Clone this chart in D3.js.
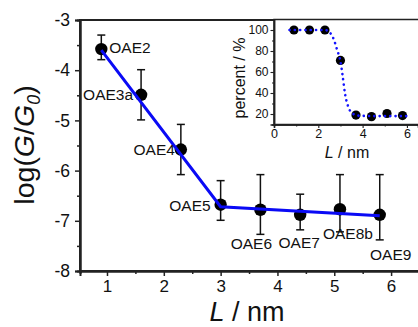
<!DOCTYPE html>
<html>
<head>
<meta charset="utf-8">
<script src="https://cdn.jsdelivr.net/npm/d3@7"></script>
<style>
  body { margin: 0; background: #fff; }
  svg text { font-family: "Liberation Sans", Arial, sans-serif; fill: #111; }
</style>
</head>
<body>
<script>
// main panel: log conductance vs length
const names = ["OAE2", "OAE3a", "OAE4", "OAE5", "OAE6", "OAE7", "OAE8b", "OAE9"];
const lengths = [0.9, 1.6, 2.3, 3.0, 3.7, 4.4, 5.1, 5.8];
const logG = [-3.58, -4.49, -5.58, -6.68, -6.78, -6.88, -6.77, -6.88];
const errHigh = [-3.3, -3.99, -5.08, -6.2, -6.08, -6.47, -6.08, -6.08];
const errLow = [-3.79, -4.99, -6.08, -6.99, -7.27, -7.18, -7.22, -7.38];
const fitX = [0.9, 3.0, 5.8];
const fitY = [-3.6, -6.72, -6.9];
const xTicks = [1, 2, 3, 4, 5, 6];
const yTicks = [-3, -4, -5, -6, -7, -8];

// inset: percent vs length
const insetPct = [100, 100, 100, 71, 19, 17.5, 20.5, 18.5];
const insetFitX = [0.7, 1.5, 2.3, 2.5, 2.7, 2.85, 3.0, 3.1, 3.2, 3.35, 3.55, 3.8, 4.5, 5.3, 6.0];
const insetFitY = [100, 100, 100, 98, 91, 81, 70, 56, 40, 27, 20.5, 18.5, 18, 18, 18];
const insetXTicks = [0, 2, 4, 6];
const insetYTicks = [20, 40, 60, 80, 100];

const width = 418, height = 327;
const svg = d3.select("body").append("svg")
    .attr("width", width).attr("height", height);

const x = d3.scaleLinear().domain([0.525, 6.5]).range([80, 419.5]);
const y = d3.scaleLinear().domain([-8, -3]).range([271, 20]);
const axisColor = "#222";

// frame
svg.append("rect")
    .attr("x", x.range()[0]).attr("y", y.range()[1])
    .attr("width", x.range()[1] - x.range()[0])
    .attr("height", y.range()[0] - y.range()[1])
    .attr("fill", "none").attr("stroke", axisColor).attr("stroke-width", 2);

function styleAxis(g, fontSize, sw) {
    g.select(".domain").attr("stroke", axisColor).attr("stroke-width", sw);
    g.selectAll(".tick line").attr("stroke", axisColor).attr("stroke-width", sw * 0.75);
    g.selectAll(".tick text").attr("font-size", fontSize + "px")
        .style("font-family", "'Liberation Sans', Arial, sans-serif").attr("fill", "#111");
}

// minor ticks first
svg.append("g").attr("transform", "translate(0," + y.range()[0] + ")")
    .call(d3.axisBottom(x).tickValues([1.5, 2.5, 3.5, 4.5, 5.5]).tickSize(3).tickFormat(""))
    .call(g => styleAxis(g, 17, 2));
svg.append("g").attr("transform", "translate(" + x.range()[0] + ",0)")
    .call(d3.axisLeft(y).tickValues([-3.5, -4.5, -5.5, -6.5, -7.5]).tickSize(3).tickFormat(""))
    .call(g => styleAxis(g, 17, 2));

svg.append("g").attr("transform", "translate(0," + y.range()[0] + ")")
    .call(d3.axisBottom(x).tickValues(xTicks).tickSize(5).tickPadding(4).tickFormat(d3.format("d")))
    .call(g => styleAxis(g, 17, 2));
svg.append("g").attr("transform", "translate(" + x.range()[0] + ",0)")
    .call(d3.axisLeft(y).tickValues(yTicks).tickSize(5).tickPadding(5).tickFormat(d => String(d).replace("\u2212", "-")))
    .call(g => styleAxis(g, 17.5, 2));

// axis titles
const xt = svg.append("text").attr("x", 247).attr("y", 321)
    .attr("text-anchor", "middle").attr("font-size", "27px");
xt.append("tspan").attr("font-style", "italic").text("L");
xt.append("tspan").text(" / nm");

const yt = svg.append("text")
    .attr("transform", "translate(34,145) rotate(-90)")
    .attr("text-anchor", "middle").attr("font-size", "28.5px");
yt.append("tspan").text("log(");
yt.append("tspan").attr("font-style", "italic").text("G");
yt.append("tspan").text("/");
yt.append("tspan").attr("font-style", "italic").text("G");
yt.append("tspan").attr("font-style", "italic").attr("font-size", "18px").attr("dy", 6).text("0");
yt.append("tspan").attr("dy", -6).text(")");

// data points and error bars
const pts = lengths.map((l, i) => ({ x: l, y: logG[i], hi: errHigh[i], lo: errLow[i], name: names[i] }));
const capW = 4;
const eb = svg.append("g").attr("stroke", "#111").attr("stroke-width", 1.5);
pts.forEach(d => {
    eb.append("line").attr("x1", x(d.x)).attr("x2", x(d.x)).attr("y1", y(d.hi)).attr("y2", y(d.lo));
    eb.append("line").attr("x1", x(d.x) - capW).attr("x2", x(d.x) + capW).attr("y1", y(d.hi)).attr("y2", y(d.hi));
    eb.append("line").attr("x1", x(d.x) - capW).attr("x2", x(d.x) + capW).attr("y1", y(d.lo)).attr("y2", y(d.lo));
});
svg.append("g").selectAll("circle").data(pts).join("circle")
    .attr("cx", d => x(d.x)).attr("cy", d => y(d.y)).attr("r", 6.2).attr("fill", "#000");

// linear fits
const fitLine = d3.line().x(d => x(d[0])).y(d => y(d[1]));
svg.append("path").datum(fitX.map((v, i) => [v, fitY[i]]))
    .attr("d", fitLine).attr("fill", "none").attr("stroke", "#0a0af5").attr("stroke-width", 3);

// point labels (offsets in px from the point)
const labelPos = {
    "OAE2": [8, 4, "start"], "OAE3a": [-8, 5, "end"], "OAE4": [-6, 5, "end"], "OAE5": [-10, 6, "end"],
    "OAE6": [-9, 39, "middle"], "OAE7": [-1, 33, "middle"], "OAE8b": [8, 30, "middle"], "OAE9": [11, 45, "middle"]
};
svg.append("g").selectAll("text").data(pts).join("text")
    .attr("x", d => x(d.x) + labelPos[d.name][0])
    .attr("y", d => y(d.y) + labelPos[d.name][1])
    .attr("text-anchor", d => labelPos[d.name][2])
    .attr("font-size", "15.5px").text(d => d.name);

// ---- inset ----
const ix = d3.scaleLinear().domain([0, 6.5]).range([274, 418]);
const iy = d3.scaleLinear().domain([10, 110]).range([124.5, 19.5]);

svg.append("rect")
    .attr("x", ix.range()[0]).attr("y", iy.range()[1])
    .attr("width", ix.range()[1] - ix.range()[0] + 4)
    .attr("height", iy.range()[0] - iy.range()[1])
    .attr("fill", "#fff").attr("stroke", axisColor).attr("stroke-width", 1.5);

svg.append("g").attr("transform", "translate(0," + iy.range()[0] + ")")
    .call(d3.axisBottom(ix).tickValues([1, 3, 5]).tickSize(2).tickFormat(""))
    .call(g => styleAxis(g, 12, 1.5));
svg.append("g").attr("transform", "translate(" + ix.range()[0] + ",0)")
    .call(d3.axisLeft(iy).tickValues([30, 50, 70, 90]).tickSize(2).tickFormat(""))
    .call(g => styleAxis(g, 12, 1.5));
svg.append("g").attr("transform", "translate(0," + iy.range()[0] + ")")
    .call(d3.axisBottom(ix).tickValues(insetXTicks).tickSize(3.5).tickPadding(1.5).tickFormat(d3.format("d")))
    .call(g => styleAxis(g, 12.5, 1.5));
svg.append("g").attr("transform", "translate(" + ix.range()[0] + ",0)")
    .call(d3.axisLeft(iy).tickValues(insetYTicks).tickSize(3.5).tickPadding(2).tickFormat(d3.format("d")))
    .call(g => styleAxis(g, 12, 1.5));

const ixt = svg.append("text").attr("x", 347).attr("y", 158)
    .attr("text-anchor", "middle").attr("font-size", "16px");
ixt.append("tspan").attr("font-style", "italic").text("L");
ixt.append("tspan").text(" / nm");

svg.append("text").attr("transform", "translate(245,78) rotate(-90)")
    .attr("text-anchor", "middle").attr("font-size", "16px").text("percent / %");

svg.append("g").selectAll("circle").data(lengths.map((l, i) => [l, insetPct[i]])).join("circle")
    .attr("cx", d => ix(d[0])).attr("cy", d => iy(d[1])).attr("r", 4.6).attr("fill", "#000");

svg.append("path").datum(insetFitX.map((v, i) => [v, insetFitY[i]]))
    .attr("d", d3.line().x(d => ix(d[0])).y(d => iy(d[1])).curve(d3.curveMonotoneX))
    .attr("fill", "none").attr("stroke", "#1414ff").attr("stroke-width", 2.6)
    .attr("stroke-dasharray", "0.1,5.2").attr("stroke-linecap", "round");
</script>
</body>
</html>
